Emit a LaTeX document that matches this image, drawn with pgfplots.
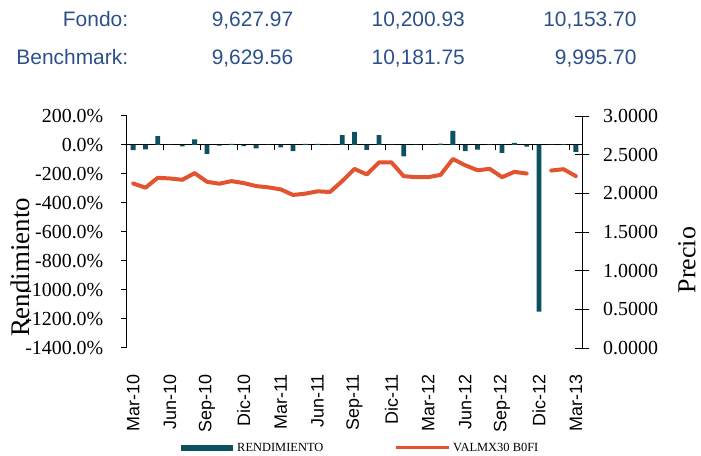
\documentclass[border=0pt]{standalone}
\usepackage{pgfplots}
\pgfplotsset{compat=1.18}
\usepackage{pgfplotstable}
\usepackage{fontspec}
\setmainfont{Liberation Serif}
\setsansfont{Liberation Sans}
\definecolor{barc}{RGB}{11,81,96}
\definecolor{linec}{RGB}{226,83,47}
\definecolor{txtblue}{RGB}{45,80,140}

\pgfplotstableread{
i r p
0 -35 2.128
1 -30 2.073
2 62 2.201
3 3 2.192
4 -10 2.175
5 39 2.261
6 -62 2.150
7 -5 2.124
8 8 2.158
9 -8 2.132
10 -23 2.094
11 2 2.077
12 -16 2.051
13 -43 1.979
14 7 1.996
15 7 2.026
16 2 2.017
17 68 2.158
18 91 2.316
19 -34 2.244
20 68 2.401
21 2 2.401
22 -78 2.222
23 2 2.209
24 2 2.209
25 9 2.239
26 98 2.444
27 -43 2.363
28 -32 2.299
29 5 2.316
30 -55 2.209
31 14 2.278
32 -12 2.256
33 -1150 nan
34 2 2.295
35 5 2.312
36 -47 2.222
}\data

\begin{document}
\begin{tikzpicture}
\useasboundingbox (-127bp,-108bp) rectangle (574bp,348bp);
% header table
\begin{scope}[every node/.style={inner sep=0pt, anchor=base east, text=txtblue, font=\sffamily\fontsize{21}{24}\selectfont}]
\node at (1.3bp,321.3bp) {Fondo:};
\node at (166.4bp,321.3bp) {9,627.97};
\node at (338bp,321.3bp) {10,200.93};
\node at (509.6bp,321.3bp) {10,153.70};
\node at (1.3bp,283bp) {Benchmark:};
\node at (166.4bp,283bp) {9,629.56};
\node at (338bp,283bp) {10,181.75};
\node at (509.6bp,283bp) {9,995.70};
\end{scope}

\begin{axis}[
  scale only axis, width=455bp, height=232bp,
  xmin=-0.5, xmax=36.5, ymin=-1400, ymax=200,
  enlargelimits=false,
  axis y line*=left, axis x line*=middle,
  axis line style={-, black, line width=1bp},
  xtick={-0.5,2.5,...,35.5}, xticklabels={},
  x tick style={black, line width=1bp},
  ytick={-1400,-1200,...,200},
  yticklabels={-1400.0\%,-1200.0\%,-1000.0\%,-800.0\%,-600.0\%,-400.0\%,-200.0\%,0.0\%,200.0\%},
  y tick style={black, line width=1bp}, major tick length=5.5bp,
  tick align=outside,
  yticklabel style={inner sep=0pt, font=\fontsize{20}{22}\selectfont},
  yticklabel shift=18bp,
  ylabel={Rendimiento},
  ylabel style={at={(axis description cs:-0.235,0.347)}, anchor=center, rotate=0, font=\fontsize{27}{30}\selectfont, inner sep=0pt},
  clip=false,
]
\addplot[ybar, bar width=4.8bp, fill=barc, draw=none] table[x=i, y=r] {\data};
\end{axis}

\begin{axis}[
  scale only axis, width=455bp, height=232bp,
  xmin=-0.5, xmax=36.5, ymin=0, ymax=3,
  enlargelimits=false,
  axis y line*=right, axis x line*=bottom,
  axis line style={-, black, line width=1bp},
  x axis line style={draw=none},
  xtick={0,3,...,36},
  xticklabels={Mar-10,Jun-10,Sep-10,Dic-10,Mar-11,Jun-11,Sep-11,Dic-11,Mar-12,Jun-12,Sep-12,Dic-12,Mar-13},
  x tick style={draw=none},
  xticklabel style={rotate=90, anchor=east, inner sep=0pt, font=\sffamily\fontsize{18}{20}\selectfont},
  xticklabel shift=19bp,
  ytick={0,0.5,...,3},
  yticklabels={0.0000,0.5000,1.0000,1.5000,2.0000,2.5000,3.0000},
  y tick style={black, line width=1bp}, major tick length=14bp,
  tick align=center,
  yticklabel style={inner sep=0pt, font=\fontsize{20}{22}\selectfont},
  yticklabel shift=14bp,
  ylabel={Precio},
  ylabel style={at={(axis description cs:1.2308,0.379)}, anchor=center, rotate=0, font=\fontsize{26}{29}\selectfont, inner sep=0pt},
  unbounded coords=jump,
  clip=false,
  legend columns=2,
  legend style={at={(axis description cs:0.1187,-0.4297)}, anchor=west, draw=none, fill=none, inner sep=0pt,
    font=\fontsize{12.5}{14}\selectfont,
    /tikz/every even column/.append style={column sep=69bp}},
]
\addlegendimage{legend image code/.code={\fill[barc, draw=none] (0bp,-3bp) rectangle (52bp,3bp); \path[draw=none, fill=none] (0bp,0bp) -- (54bp,0bp);}}
\addlegendentry{RENDIMIENTO}
\addplot[linec, line width=4bp, line join=round, line cap=round,
  legend image code/.code={\draw[linec, line width=3.5bp, line cap=butt] (0bp,0bp) -- (53bp,0bp); \path[draw=none] (0bp,0bp) -- (55bp,0bp);}] table[x=i, y=p] {\data};
\addlegendentry{VALMX30 B0FI}
\end{axis}
\end{tikzpicture}
\end{document}
